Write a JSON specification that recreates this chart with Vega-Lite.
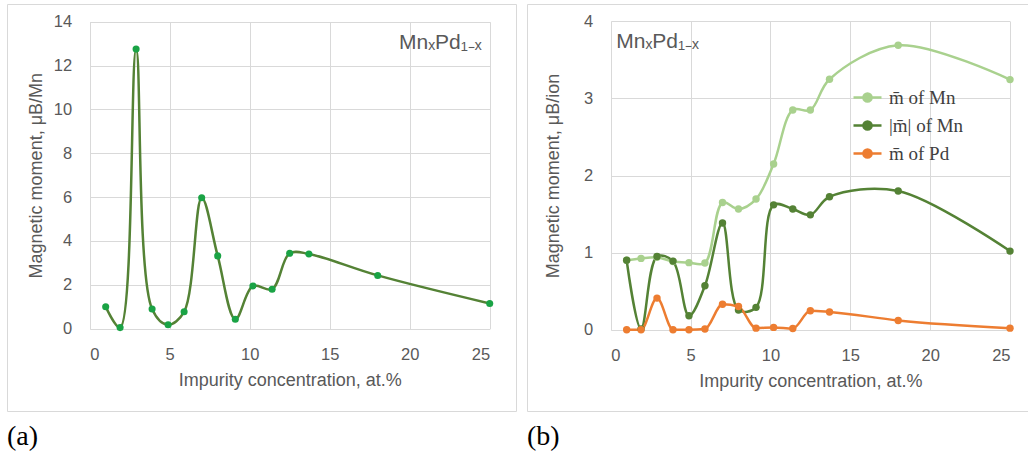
{
  "$schema": "https://vega.github.io/schema/vega-lite/v6.json",
  "background": "white",
  "padding": {"left": 6, "top": 3, "right": 0, "bottom": 0},
  "spacing": 9,
  "config": {
    "view": {"stroke": "#d9d9d9", "strokeWidth": 1},
    "axis": {
      "domain": false, "ticks": false, "grid": false, "gridColor": "#d9d9d9", "gridWidth": 1,
      "labelColor": "#595959", "labelFont": "Liberation Sans", "labelFontSize": 16.5,
      "titleColor": "#595959", "titleFont": "Liberation Sans", "titleFontSize": 18, "titleFontWeight": "normal"
    },
    "title": {"font": "Liberation Serif", "fontSize": 28, "fontWeight": "normal", "color": "#000000", "orient": "bottom", "anchor": "start", "offset": 12}
  },
  "hconcat": [
    {
      "width": 509,
      "height": 407,
      "title": {"text": "(a)"},
      "data": {"values": [
        {"x": 1.0, "m": 1.0}, {"x": 1.9, "m": 0.05}, {"x": 2.9, "m": 12.75}, {"x": 3.9, "m": 0.9},
        {"x": 4.9, "m": 0.18}, {"x": 5.9, "m": 0.77}, {"x": 7.0, "m": 5.97}, {"x": 8.0, "m": 3.32},
        {"x": 9.1, "m": 0.43}, {"x": 10.2, "m": 1.95}, {"x": 11.4, "m": 1.8}, {"x": 12.5, "m": 3.44},
        {"x": 13.7, "m": 3.41}, {"x": 18.0, "m": 2.43}, {"x": 25.0, "m": 1.15}
      ]},
      "resolve": {"axis": {"x": "independent"}},
      "layer": [
        {
          "mark": {"type": "line", "interpolate": "catmull-rom", "color": "#548235", "strokeWidth": 2.5},
          "encoding": {
            "x": {"field": "x", "type": "quantitative",
              "scale": {"domain": [0, 25], "range": [82.7, 482.7], "nice": false},
              "axis": {"orient": "bottom", "values": [0, 5, 10, 15, 20, 25], "title": "Impurity concentration, at.%", "offset": -82.3, "labelPadding": 18, "titlePadding": 8}},
            "y": {"field": "m", "type": "quantitative",
              "scale": {"domain": [0, 14], "range": [324.7, 17.7], "nice": false},
              "axis": {"values": [0, 2, 4, 6, 8, 10, 12, 14], "format": "d", "grid": true, "title": "Magnetic moment, μB/Mn", "offset": -82.7, "labelPadding": 18, "titlePadding": 7.5}}
          }
        },
        {
          "mark": {"type": "point", "filled": true, "color": "#1aa345", "size": 50, "opacity": 1},
          "encoding": {
            "x": {"field": "x", "type": "quantitative",
              "axis": {"orient": "top", "values": [0, 5, 10, 15, 20, 25], "grid": true, "labels": false, "title": null}},
            "y": {"field": "m", "type": "quantitative"}
          }
        },
        {
          "data": {"values": [{"label": "MnₓPd₁₋ₓ"}]},
          "mark": {"type": "text", "align": "right", "baseline": "alphabetic", "font": "Liberation Sans", "fontSize": 21, "color": "#595959"},
          "encoding": {
            "x": {"datum": 24.5, "type": "quantitative", "axis": null},
            "y": {"datum": 12.75, "type": "quantitative"},
            "text": {"field": "label"}
          }
        }
      ]
    },
    {
      "width": 502,
      "height": 407,
      "title": {"text": "(b)"},
      "data": {"values": [
        {"x": 1.0, "v": 0.90, "s": "a"}, {"x": 1.9, "v": 0.925, "s": "a"}, {"x": 2.9, "v": 0.94, "s": "a"}, {"x": 3.9, "v": 0.885, "s": "a"},
        {"x": 4.9, "v": 0.87, "s": "a"}, {"x": 5.9, "v": 0.865, "s": "a"}, {"x": 7.0, "v": 1.65, "s": "a"}, {"x": 8.0, "v": 1.565, "s": "a"},
        {"x": 9.1, "v": 1.695, "s": "a"}, {"x": 10.2, "v": 2.15, "s": "a"}, {"x": 11.4, "v": 2.85, "s": "a"}, {"x": 12.5, "v": 2.85, "s": "a"},
        {"x": 13.7, "v": 3.25, "s": "a"}, {"x": 18.0, "v": 3.69, "s": "a"}, {"x": 25.0, "v": 3.245, "s": "a"},
        {"x": 1.0, "v": 0.90, "s": "b"}, {"x": 1.9, "v": 0.01, "s": "b"}, {"x": 2.9, "v": 0.95, "s": "b"}, {"x": 3.9, "v": 0.89, "s": "b"},
        {"x": 4.9, "v": 0.18, "s": "b"}, {"x": 5.9, "v": 0.57, "s": "b"}, {"x": 7.0, "v": 1.385, "s": "b"}, {"x": 8.0, "v": 0.255, "s": "b"},
        {"x": 9.1, "v": 0.29, "s": "b"}, {"x": 10.2, "v": 1.62, "s": "b"}, {"x": 11.4, "v": 1.565, "s": "b"}, {"x": 12.5, "v": 1.49, "s": "b"},
        {"x": 13.7, "v": 1.725, "s": "b"}, {"x": 18.0, "v": 1.80, "s": "b"}, {"x": 25.0, "v": 1.02, "s": "b"},
        {"x": 1.0, "v": 0.0, "s": "c"}, {"x": 1.9, "v": 0.0, "s": "c"}, {"x": 2.9, "v": 0.41, "s": "c"}, {"x": 3.9, "v": 0.0, "s": "c"},
        {"x": 4.9, "v": 0.0, "s": "c"}, {"x": 5.9, "v": 0.01, "s": "c"}, {"x": 7.0, "v": 0.33, "s": "c"}, {"x": 8.0, "v": 0.30, "s": "c"},
        {"x": 9.1, "v": 0.02, "s": "c"}, {"x": 10.2, "v": 0.03, "s": "c"}, {"x": 11.4, "v": 0.015, "s": "c"}, {"x": 12.5, "v": 0.245, "s": "c"},
        {"x": 13.7, "v": 0.23, "s": "c"}, {"x": 18.0, "v": 0.12, "s": "c"}, {"x": 25.0, "v": 0.02, "s": "c"}
      ]},
      "resolve": {"axis": {"x": "independent"}},
      "layer": [
        {
          "transform": [{"filter": "datum.s !== 'c'"}],
          "mark": {"type": "line", "interpolate": "catmull-rom", "strokeWidth": 2.5},
          "encoding": {
            "x": {"field": "x", "type": "quantitative",
              "scale": {"domain": [0, 25], "range": [83.7, 483], "nice": false},
              "axis": {"orient": "bottom", "values": [0, 5, 10, 15, 20, 25], "title": "Impurity concentration, at.%", "offset": -81.3, "labelPadding": 18, "titlePadding": 8}},
            "y": {"field": "v", "type": "quantitative",
              "scale": {"domain": [0, 4], "range": [325.7, 17.4], "nice": false},
              "axis": {"values": [0, 1, 2, 3, 4], "format": "d", "grid": true, "title": "Magnetic moment, μB/ion", "offset": -83.7, "labelPadding": 18, "titlePadding": 21}},
            "color": {"field": "s", "type": "nominal",
              "scale": {"domain": ["a", "b", "c"], "range": ["#a9d18e", "#548235", "#ed7d31"]},
              "legend": {
                "orient": "none", "legendX": 845, "legendY": 78, "title": null, "padding": 0,
                "symbolType": "M-1,0H1M0.29,0A0.29,0.29,0,1,1,-0.29,0A0.29,0.29,0,1,1,0.29,0Z",
                "symbolSize": 784, "symbolStrokeWidth": 2.5,
                "labelFont": "Liberation Serif", "labelFontSize": 19, "labelColor": "#404040", "labelOffset": 6, "rowPadding": 2,
                "labelExpr": "datum.value === 'a' ? 'm̄ of Mn' : datum.value === 'b' ? '|m̄| of Mn' : 'm̄ of Pd'",
                "encode": {"symbols": {"update": {
                  "fill": [{"test": "datum.value === 'a'", "value": "#a9d18e"}, {"test": "datum.value === 'b'", "value": "#548235"}, {"value": "#ed7d31"}],
                  "stroke": [{"test": "datum.value === 'a'", "value": "#a9d18e"}, {"test": "datum.value === 'b'", "value": "#548235"}, {"value": "#ed7d31"}],
                  "fillOpacity": {"value": 1}
                }}}
              }}
          }
        },
        {
          "transform": [{"filter": "datum.s === 'c'"}],
          "mark": {"type": "line", "interpolate": "monotone", "strokeWidth": 2.5},
          "encoding": {
            "x": {"field": "x", "type": "quantitative", "axis": null},
            "y": {"field": "v", "type": "quantitative"},
            "color": {"field": "s", "type": "nominal", "legend": null}
          }
        },
        {
          "mark": {"type": "point", "filled": true, "size": 55, "opacity": 1},
          "encoding": {
            "x": {"field": "x", "type": "quantitative",
              "axis": {"orient": "top", "values": [0, 5, 10, 15, 20, 25], "grid": true, "labels": false, "title": null}},
            "y": {"field": "v", "type": "quantitative"},
            "color": {"field": "s", "type": "nominal", "legend": null}
          }
        },
        {
          "data": {"values": [{"label": "MnₓPd₁₋ₓ"}]},
          "mark": {"type": "text", "align": "left", "baseline": "alphabetic", "font": "Liberation Sans", "fontSize": 21, "color": "#595959"},
          "encoding": {
            "x": {"datum": 0.35, "type": "quantitative", "axis": null},
            "y": {"datum": 3.66, "type": "quantitative"},
            "text": {"field": "label"}
          }
        }
      ]
    }
  ]
}
